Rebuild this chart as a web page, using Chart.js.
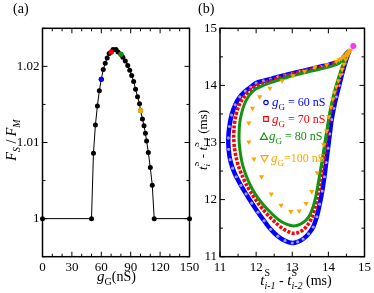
<!DOCTYPE html>
<html>
<head>
<meta charset="utf-8">
<script src="https://cdn.jsdelivr.net/npm/chart.js@4.4.0/dist/chart.umd.min.js"></script>
<style>
  body { margin: 0; background: #fff; width: 374px; height: 293px; position: relative; overflow: hidden; }
  canvas { position: absolute; top: 0; }
  #chartA { left: 0; }
  #chartB { left: 195px; }
</style>
</head>
<body>
<canvas id="chartA" width="205" height="293"></canvas>
<canvas id="chartB" width="179" height="293"></canvas>
<script>
// ---- panel (a): F_S / F_M against g_G ----
const gG = [0, 50, 52, 54, 56, 58, 60, 62, 64, 66, 68, 70, 72, 75, 77, 80, 82, 84.5, 87, 89, 91, 93, 95, 97, 99, 100, 102, 103.6, 105, 106.2, 108, 110, 112, 114, 150];
const fRatio = [1, 1, 1.0086, 1.0123, 1.0148, 1.0168, 1.0183, 1.0196, 1.0204, 1.0211, 1.0217, 1.0219, 1.0222, 1.0222, 1.0219, 1.0216, 1.0212, 1.0207, 1.0201, 1.0195, 1.0188, 1.0180, 1.0170, 1.0160, 1.0151, 1.0142, 1.0131, 1.0122, 1.0112, 1.0102, 1.0087, 1.0067, 1.0044, 1, 1];
const markG = [60, 70, 80, 100];
const markF = [1.0183, 1.0219, 1.0216, 1.0142];
const markColors = ['#0000ff', '#ff0000', '#129312', '#ffa500'];

// ---- panel (b): return map t(i)-t(i-1) vs t(i-1)-t(i-2), in ms ----
const tPrev60 = [14.58,14.50,14.40,14.30,14.15,14.00,13.80,13.60,13.40,13.20, 13.00,12.80,12.60,12.40,12.20,12.00,11.85,11.70,11.55,11.42, 11.32,11.26,11.23,11.24,11.28,11.35,11.45,11.58,11.72,11.88, 12.05,12.22,12.40,12.60,12.80,13.00,13.15,13.30,13.45,13.58, 13.68,13.76,13.83,13.89,13.94,13.99,14.04,14.09,14.15,14.22, 14.30,14.38,14.46,14.53,14.58];
const tCur60 = [14.60,14.56,14.47,14.42,14.39,14.36,14.33,14.30,14.27,14.24, 14.21,14.18,14.15,14.11,14.08,14.04,13.97,13.90,13.80,13.66, 13.48,13.28,13.08,12.88,12.70,12.55,12.40,12.25,12.10,11.94, 11.78,11.63,11.48,11.36,11.28,11.24,11.26,11.31,11.40,11.52, 11.70,11.92,12.15,12.40,12.65,12.90,13.15,13.40,13.60,13.80, 14.00,14.20,14.38,14.52,14.60];

const tPrev70 = [14.57,14.48,14.38,14.28,14.15,14.00,13.80,13.60,13.40,13.20, 13.00,12.80,12.60,12.40,12.20,12.00,11.85,11.72,11.60,11.50, 11.43,11.39,11.38,11.40,11.45,11.52,11.62,11.74,11.88,12.04, 12.20,12.37,12.55,12.72,12.88,13.00,13.15,13.30,13.43,13.54, 13.63,13.70,13.77,13.83,13.89,13.94,13.99,14.05,14.12,14.20, 14.28,14.36,14.44,14.51,14.57];
const tCur70 = [14.58,14.53,14.45,14.41,14.38,14.35,14.32,14.29,14.26,14.23, 14.20,14.16,14.12,14.08,14.04,13.99,13.92,13.84,13.74,13.61, 13.45,13.27,13.08,12.90,12.73,12.57,12.41,12.25,12.10,11.95, 11.82,11.70,11.59,11.50,11.44,11.41,11.42,11.47,11.56,11.68, 11.85,12.05,12.28,12.52,12.77,13.02,13.27,13.50,13.70,13.90, 14.08,14.25,14.40,14.51,14.58];

const tPrev80 = [14.56,14.47,14.37,14.27,14.15,14.00,13.80,13.60,13.40,13.20, 13.00,12.80,12.60,12.40,12.20,12.00,11.87,11.76,11.67,11.60, 11.55,11.53,11.53,11.56,11.61,11.69,11.79,11.91,12.05,12.20, 12.36,12.52,12.68,12.84,13.00,13.15,13.28,13.40,13.50,13.58, 13.65,13.71,13.77,13.83,13.89,13.95,14.01,14.08,14.16,14.25, 14.34,14.43,14.51,14.56];
const tCur80 = [14.57,14.51,14.43,14.38,14.35,14.32,14.29,14.26,14.23,14.20, 14.17,14.13,14.09,14.05,14.00,13.94,13.87,13.78,13.66,13.52, 13.36,13.19,13.01,12.83,12.65,12.48,12.32,12.17,12.03,11.91, 11.80,11.70,11.62,11.57,11.54,11.55,11.59,11.65,11.75,11.88, 12.05,12.25,12.47,12.70,12.94,13.18,13.42,13.65,13.87,14.07, 14.25,14.40,14.51,14.57];

const tPrev100 = [14.62,14.58,14.54,14.50,14.46,14.42,14.36,14.30,14.22,13.95, 13.63,13.34,13.02,12.72,12.38,12.10,11.90,11.80,11.80,11.94, 12.15,12.42,12.69,12.96,13.19,13.38,13.54,13.69,13.80,13.87, 13.95,14.01,14.07,14.12,14.17,14.22,14.28,14.33,14.38,14.43, 14.48,14.53,14.57];
const tCur100 = [14.62,14.60,14.57,14.55,14.52,14.50,14.47,14.45,14.42,14.36, 14.32,14.25,14.17,14.08,13.95,13.80,13.60,13.34,13.01,12.71, 12.40,12.10,11.90,11.79,11.80,11.93,12.14,12.47,12.72,12.96, 13.20,13.45,13.62,13.76,13.88,13.98,14.08,14.18,14.28,14.37, 14.45,14.52,14.57];

const fixedX = [14.69];
const fixedY = [14.69];

const legendLabels = [' = 60 nS', ' = 70 nS', ' = 80 nS', '=100 nS'];

const SERIF = '"Liberation Serif", "DejaVu Serif", serif';
const fnt = (size, italic) => (italic ? 'italic ' : '') + size + 'px ' + SERIF;
const pts = (xs, ys) => xs.map((v, i) => ({ x: v, y: ys[i] }));

// text with sub/superscripts; a part with stack:true shares its x with the next part
function richWidth(ctx, parts) {
  let w = 0, held = null;
  for (const p of parts) {
    ctx.font = fnt(p.s, p.i);
    const pw = ctx.measureText(p.t).width;
    if (p.stack) held = pw;
    else { w += held !== null ? Math.max(held, pw) : pw; held = null; }
  }
  return w;
}
function rich(ctx, x, y, parts, center) {
  let cx = center ? x - richWidth(ctx, parts) / 2 : x;
  let held = null;
  ctx.textAlign = 'left';
  ctx.textBaseline = 'alphabetic';
  for (const p of parts) {
    ctx.font = fnt(p.s, p.i);
    const pw = ctx.measureText(p.t).width;
    ctx.fillText(p.t, cx, y + (p.dy || 0));
    if (p.stack) held = pw;
    else { cx += held !== null ? Math.max(held, pw) : pw; held = null; }
  }
}

// box + inward ticks on all four sides
const framePlugin = {
  id: 'frame',
  beforeDatasetsDraw(chart) {
    const { ctx, chartArea: a, scales: { x, y } } = chart;
    ctx.save();
    ctx.strokeStyle = '#000';
    ctx.lineWidth = 1;
    x.ticks.forEach(t => {
      const px = x.getPixelForValue(t.value);
      const len = t.label !== '' ? 5 : 3;
      ctx.beginPath();
      ctx.moveTo(px, a.bottom); ctx.lineTo(px, a.bottom - len);
      ctx.moveTo(px, a.top); ctx.lineTo(px, a.top + len);
      ctx.stroke();
    });
    y.ticks.forEach(t => {
      const py = y.getPixelForValue(t.value);
      const len = t.label !== '' ? 5 : 3;
      ctx.beginPath();
      ctx.moveTo(a.left, py); ctx.lineTo(a.left + len, py);
      ctx.moveTo(a.right, py); ctx.lineTo(a.right - len, py);
      ctx.stroke();
    });
    ctx.lineWidth = 1.5;
    ctx.strokeRect(a.left, a.top, a.right - a.left, a.bottom - a.top);
    ctx.restore();
  }
};

const labelsA = {
  id: 'labelsA',
  afterDraw(chart) {
    const ctx = chart.ctx;
    ctx.save();
    ctx.fillStyle = '#000';
    ctx.font = fnt(14);
    ctx.fillText('(a)', 13, 13);
    rich(ctx, 116.5, 281, [
      { t: 'g', s: 15, i: true }, { t: 'G', s: 10, dy: 4 }, { t: '(nS)', s: 14 }
    ], true);
    ctx.translate(16, 140);
    ctx.rotate(-Math.PI / 2);
    rich(ctx, 0, 0, [
      { t: 'F', s: 14, i: true }, { t: 'S', s: 10, i: true, dy: 4 }, { t: ' / ', s: 14 },
      { t: 'F', s: 14, i: true }, { t: 'M', s: 10, i: true, dy: 4 }
    ], true);
    ctx.restore();
  }
};

const legendColors = ['#0000ff', '#ff0000', '#129312', '#ffa500'];
const labelsB = {
  id: 'labelsB',
  afterDraw(chart) {
    const ctx = chart.ctx;
    ctx.save();
    ctx.fillStyle = '#000';
    ctx.font = fnt(14);
    ctx.fillText('(b)', 3, 13);
    rich(ctx, 101, 285, [
      { t: 't', s: 15, i: true }, { t: 'S', s: 10, dy: -9, stack: true }, { t: 'i-1', s: 10, i: true, dy: 4 },
      { t: ' - ', s: 14 },
      { t: 't', s: 15, i: true }, { t: 'S', s: 10, dy: -9, stack: true }, { t: 'i-2', s: 10, i: true, dy: 4 },
      { t: ' (ms)', s: 14 }
    ], true);
    ctx.save();
    ctx.translate(12, 140);
    ctx.rotate(-Math.PI / 2);
    rich(ctx, 0, 0, [
      { t: 't', s: 13, i: true }, { t: 'S', s: 9, dy: -8, stack: true }, { t: 'i', s: 9, i: true, dy: 3 },
      { t: ' - ', s: 13 },
      { t: 't', s: 13, i: true }, { t: 'S', s: 9, dy: -8, stack: true }, { t: 'i-1', s: 9, i: true, dy: 3 },
      { t: ' (ms)', s: 13 }
    ], true);
    ctx.restore();

    // legend
    const rows = [
      { mx: 71, my: 102.5, tx: 77, ty: 106 },
      { mx: 71, my: 119, tx: 77, ty: 123 },
      { mx: 69, my: 136.5, tx: 74, ty: 140 },
      { mx: 69.5, my: 158.5, tx: 76, ty: 162 }
    ];
    rows.forEach((r, k) => {
      const c = legendColors[k];
      ctx.strokeStyle = c;
      ctx.fillStyle = c;
      ctx.lineWidth = 1.2;
      ctx.beginPath();
      if (k === 0) ctx.arc(r.mx, r.my, 2.2, 0, Math.PI * 2);
      else if (k === 1) ctx.rect(r.mx - 2.3, r.my - 2.3, 4.6, 4.6);
      else if (k === 2) { ctx.moveTo(r.mx, r.my - 3.5); ctx.lineTo(r.mx + 3.5, r.my + 2.8); ctx.lineTo(r.mx - 3.5, r.my + 2.8); ctx.closePath(); }
      else { ctx.moveTo(r.mx, r.my + 3.5); ctx.lineTo(r.mx + 3.5, r.my - 2.8); ctx.lineTo(r.mx - 3.5, r.my - 2.8); ctx.closePath(); }
      ctx.stroke();
      rich(ctx, r.tx, r.ty, [
        { t: 'g', s: 13, i: true }, { t: 'G', s: 9, dy: 3.5 }, { t: legendLabels[k], s: 12 }
      ], false);
    });
    ctx.restore();
  }
};

function axis(min, max, step, isMajor, fit, pad) {
  return {
    type: 'linear', min: min, max: max,
    grid: { display: false, drawTicks: false },
    border: { display: false },
    afterFit: fit,
    ticks: {
      stepSize: step, autoSkip: false, maxRotation: 0, padding: pad,
      color: '#000', font: { family: SERIF, size: 13 },
      callback: v => isMajor(v) ? String(+v.toFixed(2)) : ''
    }
  };
}
const near = (v, m) => Math.abs(v / m - Math.round(v / m)) < 1e-6;

new Chart(document.getElementById('chartA'), {
  type: 'scatter',
  data: {
    datasets: [
      {
        data: pts(markG, markF), order: 0, clip: false,
        pointRadius: 2.6, pointBackgroundColor: markColors, pointBorderColor: markColors, pointBorderWidth: 0
      },
      {
        data: pts(gG, fRatio), order: 1, clip: false, showLine: true,
        borderColor: '#000', borderWidth: 1, pointRadius: 2.5,
        pointBackgroundColor: '#000', pointBorderWidth: 0
      }
    ]
  },
  options: {
    responsive: false, animation: false, devicePixelRatio: 1,
    layout: { autoPadding: false, padding: { left: 0, right: 15.5, top: 28.3, bottom: 0 } },
    plugins: { legend: { display: false }, tooltip: { enabled: false } },
    scales: {
      x: axis(0, 150, 10, v => near(v, 30), s => { s.height = 36.3; }, 3),
      y: axis(0.995, 1.025, 0.005, v => near(v, 0.01), s => { s.width = 42.5; }, 3)
    }
  },
  plugins: [framePlugin, labelsA]
});

new Chart(document.getElementById('chartB'), {
  type: 'scatter',
  data: {
    datasets: [
      {
        data: pts(fixedX, fixedY), order: 0, clip: false,
        pointRadius: 3, pointBackgroundColor: '#ff33ff', pointBorderWidth: 0
      },
      {
        data: pts(tPrev100, tCur100), order: 1,
        pointStyle: 'triangle', rotation: 180, pointRadius: 3,
        pointBackgroundColor: '#ffa500', pointBorderColor: '#ffa500', pointBorderWidth: 0
      },
      {
        data: pts(tPrev80, tCur80), order: 2, showLine: true, tension: 0.3,
        borderColor: '#129312', borderWidth: 3, pointRadius: 0
      },
      {
        data: pts(tPrev70, tCur70), order: 3, showLine: true, tension: 0.3,
        borderColor: '#ff0000', borderWidth: 3.6, borderDash: [3, 1.6], pointRadius: 0
      },
      {
        data: pts(tPrev60, tCur60), order: 4, showLine: true, tension: 0.3,
        borderColor: '#0000ff', borderWidth: 4.5, pointRadius: 1.6,
        pointStyle: 'circle', pointBackgroundColor: '#9a9aff', pointBorderWidth: 0
      }
    ]
  },
  options: {
    responsive: false, animation: false, devicePixelRatio: 1,
    layout: { autoPadding: false, padding: { left: 0, right: 6.7, top: 28.3, bottom: 0 } },
    plugins: { legend: { display: false }, tooltip: { enabled: false } },
    scales: {
      x: axis(11, 15, 0.5, v => near(v, 1), s => { s.height = 36.3; }, 3),
      y: axis(11, 15, 0.5, v => near(v, 1), s => { s.width = 25; }, 3)
    }
  },
  plugins: [framePlugin, labelsB]
});
</script>
</body>
</html>
